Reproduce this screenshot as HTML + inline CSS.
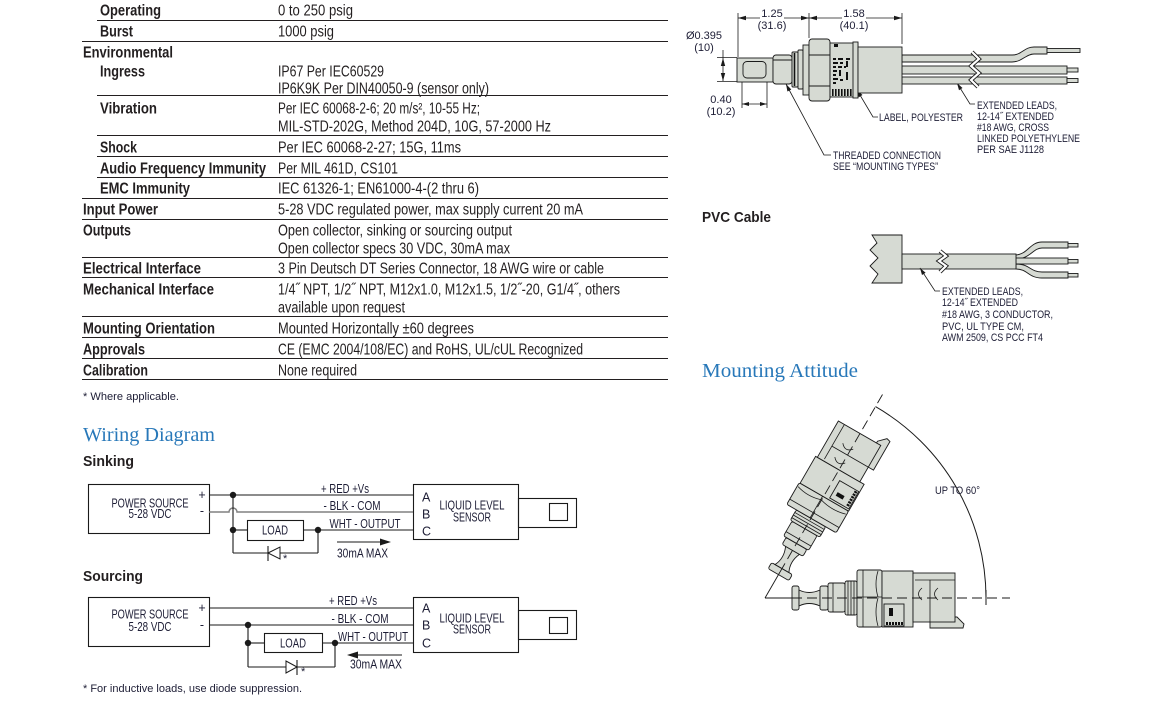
<!DOCTYPE html>
<html><head><meta charset="utf-8">
<style>
html,body{margin:0;padding:0;background:#fff;}
svg{display:block;}
.lb{font-family:"Liberation Sans Narrow","Liberation Sans",sans-serif;font-weight:bold;font-size:15.5px;fill:#231f20;}
.v{font-family:"Liberation Sans Narrow","Liberation Sans",sans-serif;font-size:15.5px;fill:#231f20;}
.h{font-family:"Liberation Sans Narrow","Liberation Sans",sans-serif;font-weight:bold;font-size:15px;fill:#231f20;}
.s{font-family:"Liberation Sans Narrow","Liberation Sans",sans-serif;font-size:12.5px;fill:#1d1d35;}
.d{font-family:"Liberation Sans Narrow","Liberation Sans",sans-serif;font-size:11px;fill:#1d1d35;}
.t{font-family:"Liberation Serif",serif;font-size:20px;fill:#2878b9;}
</style></head><body>
<svg width="1161" height="704" viewBox="0 0 1161 704" xmlns="http://www.w3.org/2000/svg">
<rect width="1161" height="704" fill="#fff"/>

<!-- ================= TABLE ================= -->
<g stroke="#231f20" stroke-width="1">
<line x1="97" y1="20.5" x2="668" y2="20.5"/>
<line x1="82" y1="41.5" x2="668" y2="41.5"/>
<line x1="97" y1="95.5" x2="668" y2="95.5"/>
<line x1="97" y1="135.5" x2="668" y2="135.5"/>
<line x1="97" y1="156.5" x2="668" y2="156.5"/>
<line x1="97" y1="177.5" x2="668" y2="177.5"/>
<line x1="82" y1="198.5" x2="668" y2="198.5"/>
<line x1="82" y1="219.5" x2="668" y2="219.5"/>
<line x1="82" y1="257.5" x2="668" y2="257.5"/>
<line x1="82" y1="277.5" x2="668" y2="277.5"/>
<line x1="82" y1="316.5" x2="668" y2="316.5"/>
<line x1="82" y1="337.5" x2="668" y2="337.5"/>
<line x1="82" y1="358.5" x2="668" y2="358.5"/>
<line x1="82" y1="379.5" x2="668" y2="379.5"/>
</g>

<text class="lb" x="100" y="15.5" textLength="61" lengthAdjust="spacingAndGlyphs">Operating</text>
<text class="lb" x="100" y="36.5" textLength="33" lengthAdjust="spacingAndGlyphs">Burst</text>
<text class="lb" x="83" y="57.5" textLength="90" lengthAdjust="spacingAndGlyphs">Environmental</text>
<text class="lb" x="100" y="76.5" textLength="45" lengthAdjust="spacingAndGlyphs">Ingress</text>
<text class="lb" x="100" y="113.5" textLength="57" lengthAdjust="spacingAndGlyphs">Vibration</text>
<text class="lb" x="100" y="152.5" textLength="37" lengthAdjust="spacingAndGlyphs">Shock</text>
<text class="lb" x="100" y="173.5" textLength="166" lengthAdjust="spacingAndGlyphs">Audio Frequency Immunity</text>
<text class="lb" x="100" y="193.5" textLength="90" lengthAdjust="spacingAndGlyphs">EMC Immunity</text>
<text class="lb" x="83" y="214.5" textLength="75" lengthAdjust="spacingAndGlyphs">Input Power</text>
<text class="lb" x="83" y="235.5" textLength="48" lengthAdjust="spacingAndGlyphs">Outputs</text>
<text class="lb" x="83" y="273.5" textLength="118" lengthAdjust="spacingAndGlyphs">Electrical Interface</text>
<text class="lb" x="83" y="294.5" textLength="131" lengthAdjust="spacingAndGlyphs">Mechanical Interface</text>
<text class="lb" x="83" y="333.5" textLength="132" lengthAdjust="spacingAndGlyphs">Mounting Orientation</text>
<text class="lb" x="83" y="354.5" textLength="62" lengthAdjust="spacingAndGlyphs">Approvals</text>
<text class="lb" x="83" y="375.5" textLength="65" lengthAdjust="spacingAndGlyphs">Calibration</text>

<text class="v" x="278" y="15.5" textLength="75" lengthAdjust="spacingAndGlyphs">0 to 250 psig</text>
<text class="v" x="278" y="36.5" textLength="56" lengthAdjust="spacingAndGlyphs">1000 psig</text>
<text class="v" x="278" y="76.5" textLength="106" lengthAdjust="spacingAndGlyphs">IP67 Per IEC60529</text>
<text class="v" x="278" y="93.5" textLength="211" lengthAdjust="spacingAndGlyphs">IP6K9K Per DIN40050-9 (sensor only)</text>
<text class="v" x="278" y="113.5" textLength="202" lengthAdjust="spacingAndGlyphs">Per IEC 60068-2-6; 20 m/s², 10-55 Hz;</text>
<text class="v" x="278" y="131.5" textLength="273" lengthAdjust="spacingAndGlyphs">MIL-STD-202G, Method 204D, 10G, 57-2000 Hz</text>
<text class="v" x="278" y="152.5" textLength="183" lengthAdjust="spacingAndGlyphs">Per IEC 60068-2-27; 15G, 11ms</text>
<text class="v" x="278" y="173.5" textLength="120" lengthAdjust="spacingAndGlyphs">Per MIL 461D, CS101</text>
<text class="v" x="278" y="193.5" textLength="201" lengthAdjust="spacingAndGlyphs">IEC 61326-1; EN61000-4-(2 thru 6)</text>
<text class="v" x="278" y="214.5" textLength="305" lengthAdjust="spacingAndGlyphs">5-28 VDC regulated power, max supply current 20 mA</text>
<text class="v" x="278" y="235.5" textLength="234" lengthAdjust="spacingAndGlyphs">Open collector, sinking or sourcing output</text>
<text class="v" x="278" y="253.5" textLength="232" lengthAdjust="spacingAndGlyphs">Open collector specs 30 VDC, 30mA max</text>
<text class="v" x="278" y="273.5" textLength="326" lengthAdjust="spacingAndGlyphs">3 Pin Deutsch DT Series Connector, 18 AWG wire or cable</text>
<text class="v" x="278" y="294.5" textLength="342" lengthAdjust="spacingAndGlyphs">1/4˝ NPT, 1/2˝ NPT, M12x1.0, M12x1.5, 1/2˝-20, G1/4˝, others</text>
<text class="v" x="278" y="312.5" textLength="127" lengthAdjust="spacingAndGlyphs">available upon request</text>
<text class="v" x="278" y="333.5" textLength="196" lengthAdjust="spacingAndGlyphs">Mounted Horizontally ±60 degrees</text>
<text class="v" x="278" y="354.5" textLength="305" lengthAdjust="spacingAndGlyphs">CE (EMC 2004/108/EC) and RoHS, UL/cUL Recognized</text>
<text class="v" x="278" y="375.5" textLength="79" lengthAdjust="spacingAndGlyphs">None required</text>
<text class="d" x="83" y="400" textLength="96" lengthAdjust="spacingAndGlyphs" font-size="11.5">* Where applicable.</text>

<!-- ================= WIRING DIAGRAM ================= -->
<text class="t" x="83" y="441" textLength="132" lengthAdjust="spacingAndGlyphs">Wiring Diagram</text>
<text class="h" x="83" y="466" textLength="51" lengthAdjust="spacingAndGlyphs">Sinking</text>

<g fill="none" stroke="#1a1a1a" stroke-width="1.1">
  <rect x="88.5" y="484.5" width="121" height="49"/>
  <rect x="413.5" y="484.5" width="105" height="55"/>
  <rect x="518.5" y="498.5" width="58" height="29"/>
  <rect x="549.5" y="503.5" width="18" height="17"/>
  <line x1="209" y1="495" x2="413" y2="495"/>
  <path d="M209,512 H229 A4,4 0 0 1 237,512 H413" stroke="#808080" stroke-width="1.5"/>
  <line x1="233" y1="495" x2="233" y2="553"/>
  <line x1="233" y1="530" x2="247" y2="530"/>
  <rect x="247.5" y="520.5" width="56" height="20"/>
  <line x1="303" y1="530" x2="413" y2="530"/>
  <line x1="318" y1="530" x2="318" y2="553"/>
  <line x1="233" y1="553" x2="318" y2="553"/>
  <line x1="268" y1="546" x2="268" y2="561"/>
  <line x1="337" y1="542" x2="384" y2="542"/>
</g>
<polygon points="268,553 280,547 280,559" fill="#fff" stroke="#1a1a1a" stroke-width="1"/>
<polygon points="391,542 380,538.5 380,545.5" fill="#1a1a1a"/>
<g fill="#1a1a1a">
  <circle cx="233" cy="495" r="3.2"/>
  <circle cx="233" cy="530" r="3.2"/>
  <circle cx="318" cy="530" r="3.2"/>
</g>
<text class="s" x="150" y="507.5" text-anchor="middle" textLength="77" lengthAdjust="spacingAndGlyphs">POWER SOURCE</text>
<text class="s" x="150" y="518" text-anchor="middle" textLength="43" lengthAdjust="spacingAndGlyphs">5-28 VDC</text>
<text class="s" x="202" y="499" text-anchor="middle">+</text>
<text class="s" x="202" y="515" text-anchor="middle">-</text>
<text class="s" x="345" y="493" text-anchor="middle" textLength="48" lengthAdjust="spacingAndGlyphs">+ RED +Vs</text>
<text class="s" x="352" y="510" text-anchor="middle" textLength="57" lengthAdjust="spacingAndGlyphs">- BLK - COM</text>
<text class="s" x="365" y="528" text-anchor="middle" textLength="71" lengthAdjust="spacingAndGlyphs">WHT - OUTPUT</text>
<text class="s" x="275" y="534.5" text-anchor="middle" textLength="26" lengthAdjust="spacingAndGlyphs">LOAD</text>
<text class="s" x="337" y="557.5" textLength="51" lengthAdjust="spacingAndGlyphs">30mA MAX</text>
<text class="s" x="422" y="501.5">A</text>
<text class="s" x="422" y="518.5">B</text>
<text class="s" x="422" y="535.5">C</text>
<text class="s" x="472" y="509.5" text-anchor="middle" textLength="65" lengthAdjust="spacingAndGlyphs">LIQUID LEVEL</text>
<text class="s" x="472" y="521.5" text-anchor="middle" textLength="38" lengthAdjust="spacingAndGlyphs">SENSOR</text>
<text class="d" x="283" y="562">*</text>

<!-- Sourcing -->
<text class="h" x="83" y="581" textLength="60" lengthAdjust="spacingAndGlyphs">Sourcing</text>
<g fill="none" stroke="#1a1a1a" stroke-width="1.1">
  <rect x="88.5" y="597.5" width="121" height="49"/>
  <rect x="413.5" y="597.5" width="105" height="55"/>
  <rect x="518.5" y="610.5" width="58" height="29"/>
  <rect x="549.5" y="617.5" width="18" height="16"/>
  <line x1="209" y1="608" x2="413" y2="608"/>
  <line x1="209" y1="625" x2="413" y2="625"/>
  <line x1="248" y1="625" x2="248" y2="667"/>
  <line x1="248" y1="643" x2="264" y2="643"/>
  <rect x="264.5" y="633.5" width="58" height="19"/>
  <line x1="322" y1="643" x2="413" y2="643"/>
  <line x1="335" y1="643" x2="335" y2="667"/>
  <line x1="248" y1="667" x2="335" y2="667"/>
  <line x1="297" y1="660" x2="297" y2="675"/>
  <line x1="355" y1="655" x2="402" y2="655"/>
</g>
<polygon points="297,667 286,661 286,673" fill="#fff" stroke="#1a1a1a" stroke-width="1"/>
<polygon points="347,655 358,651.5 358,658.5" fill="#1a1a1a"/>
<g fill="#1a1a1a">
  <circle cx="248" cy="625" r="3.2"/>
  <circle cx="248" cy="643" r="3.2"/>
  <circle cx="335" cy="643" r="3.2"/>
</g>
<text class="s" x="150" y="618.5" text-anchor="middle" textLength="77" lengthAdjust="spacingAndGlyphs">POWER SOURCE</text>
<text class="s" x="150" y="631" text-anchor="middle" textLength="43" lengthAdjust="spacingAndGlyphs">5-28 VDC</text>
<text class="s" x="202" y="612" text-anchor="middle">+</text>
<text class="s" x="202" y="629" text-anchor="middle">-</text>
<text class="s" x="353" y="605" text-anchor="middle" textLength="48" lengthAdjust="spacingAndGlyphs">+ RED +Vs</text>
<text class="s" x="360" y="623" text-anchor="middle" textLength="57" lengthAdjust="spacingAndGlyphs">- BLK - COM</text>
<text class="s" x="373" y="641" text-anchor="middle" textLength="70" lengthAdjust="spacingAndGlyphs">WHT - OUTPUT</text>
<text class="s" x="293" y="647.5" text-anchor="middle" textLength="26" lengthAdjust="spacingAndGlyphs">LOAD</text>
<text class="s" x="350" y="668.5" textLength="52" lengthAdjust="spacingAndGlyphs">30mA MAX</text>
<text class="s" x="422" y="612.5">A</text>
<text class="s" x="422" y="629.5">B</text>
<text class="s" x="422" y="647.5">C</text>
<text class="s" x="472" y="622.5" text-anchor="middle" textLength="65" lengthAdjust="spacingAndGlyphs">LIQUID LEVEL</text>
<text class="s" x="472" y="633.5" text-anchor="middle" textLength="38" lengthAdjust="spacingAndGlyphs">SENSOR</text>
<text class="d" x="301" y="675">*</text>
<text class="d" x="83" y="692" textLength="219" lengthAdjust="spacingAndGlyphs" font-size="11.5">* For inductive loads, use diode suppression.</text>

<!-- ================= TOP RIGHT SENSOR DRAWING ================= -->
<g stroke="#1a1a1a" stroke-width="0.8" fill="none">
  <line x1="738" y1="13" x2="738" y2="57"/>
  <line x1="809" y1="13" x2="809" y2="38"/>
  <line x1="902" y1="13" x2="902" y2="44"/>
  <line x1="738" y1="18" x2="760" y2="18"/>
  <line x1="784" y1="18" x2="809" y2="18"/>
  <line x1="809" y1="18" x2="842" y2="18"/>
  <line x1="866" y1="18" x2="902" y2="18"/>
  <line x1="723" y1="50" x2="723" y2="81"/>
  <line x1="717" y1="57.5" x2="737" y2="57.5"/>
  <line x1="717" y1="81.5" x2="737" y2="81.5"/>
  <line x1="742" y1="82" x2="742" y2="108"/>
  <line x1="767" y1="82" x2="767" y2="108"/>
  <line x1="742" y1="104" x2="767" y2="104"/>
  <polyline points="786,84 824,155 831,155"/>
  <polyline points="857,90 873,117 878,117"/>
  <polyline points="957,83 970,104 975,104"/>
</g>
<g fill="#1a1a1a">
  <polygon points="738,18 746,15.8 746,20.2"/>
  <polygon points="809,18 801,15.8 801,20.2"/>
  <polygon points="809,18 817,15.8 817,20.2"/>
  <polygon points="902,18 894,15.8 894,20.2"/>
  <polygon points="723,58 720.8,66 725.2,66"/>
  <polygon points="723,81 720.8,73 725.2,73"/>
  <polygon points="742,104 749,102 749,106"/>
  <polygon points="767,104 760,102 760,106"/>
  <polygon points="786,84 791.3,89.5 787.4,91.5"/>
  <polygon points="857,90 862.5,95 858.8,97.2"/>
  <polygon points="957,83 962.5,88 959,90.2"/>
</g>
<text class="d" x="772" y="17" text-anchor="middle">1.25</text>
<text class="d" x="772" y="29" text-anchor="middle">(31.6)</text>
<text class="d" x="854" y="17" text-anchor="middle">1.58</text>
<text class="d" x="854" y="29" text-anchor="middle">(40.1)</text>
<text class="d" x="704" y="39" text-anchor="middle">Ø0.395</text>
<text class="d" x="704" y="51" text-anchor="middle">(10)</text>
<text class="d" x="721" y="103" text-anchor="middle">0.40</text>
<text class="d" x="721" y="115" text-anchor="middle">(10.2)</text>

<g fill="#d6dad3" stroke="#1a1a1a" stroke-width="0.9">
  <path d="M902,55 H1012 C1022,55 1024,47 1034,47 H1047 V54 H1034 C1026,54 1022,62 1012,62 H902 Z"/>
  <rect x="1047" y="48.5" width="33" height="4"/>
  <rect x="902" y="66" width="165" height="8"/>
  <rect x="1067" y="68" width="11" height="4"/>
  <rect x="902" y="77" width="165" height="7"/>
  <rect x="1067" y="78.5" width="11" height="4"/>
  <rect x="737" y="58" width="36" height="24"/>
  <rect x="743" y="61.5" width="23" height="16.5" rx="4"/>
  <rect x="773" y="55" width="19" height="29" rx="3"/>
  <rect x="792" y="52" width="6" height="35" rx="1"/>
  <rect x="798" y="50" width="5" height="39" rx="1"/>
  <rect x="803" y="45" width="6" height="50"/>
  <rect x="809" y="39" width="21" height="62" rx="3"/>
  <path d="M809,55 H830 M809,86 H830 M773,60 H792" fill="none"/>
  <rect x="830" y="43" width="28" height="54"/>
  <rect x="853" y="42" width="5" height="56"/>
  <rect x="858" y="47" width="44" height="46"/>
</g>
<line x1="794.5" y1="53" x2="794.5" y2="86" stroke="#111" stroke-width="1.6"/>
<g fill="none">
  <polyline points="972,52 979,59 971,66 979,73 971,80 978,87" stroke="#1a1a1a" stroke-width="4"/>
  <polyline points="972,52 979,59 971,66 979,73 971,80 978,87" stroke="#fff" stroke-width="2.2"/>
</g>
<g fill="#111">
  <rect x="834" y="44" width="4" height="3"/>
  <rect x="833" y="58" width="3" height="2"/><rect x="838" y="58" width="5" height="2"/><rect x="846" y="58" width="4" height="2"/>
  <rect x="833" y="62" width="5" height="2"/><rect x="840" y="62" width="3" height="2"/><rect x="846" y="61" width="2" height="6"/>
  <rect x="833" y="66" width="3" height="2"/><rect x="838" y="66" width="4" height="2"/><rect x="844" y="66" width="2" height="2"/>
  <rect x="833" y="70" width="4" height="2"/><rect x="839" y="70" width="2" height="6"/><rect x="846" y="72" width="2" height="8"/>
  <rect x="833" y="74" width="3" height="2"/><rect x="833" y="78" width="5" height="2"/><rect x="840" y="79" width="3" height="2"/>
  <rect x="833" y="82" width="3" height="2"/>
  <rect x="832" y="89" width="1.6" height="7"/><rect x="835" y="89" width="1.6" height="7"/><rect x="838" y="89" width="1.6" height="7"/>
  <rect x="841" y="89" width="1.6" height="7"/><rect x="844" y="89" width="1.6" height="7"/><rect x="847" y="89" width="1.6" height="7"/>
  <rect x="850" y="89" width="1.6" height="7"/>
</g>
<text class="d" x="879" y="121" textLength="84" lengthAdjust="spacingAndGlyphs">LABEL, POLYESTER</text>
<text class="d" x="833" y="159" textLength="108" lengthAdjust="spacingAndGlyphs">THREADED CONNECTION</text>
<text class="d" x="833" y="170" textLength="105" lengthAdjust="spacingAndGlyphs">SEE “MOUNTING TYPES”</text>
<text class="d" x="977" y="109" textLength="80" lengthAdjust="spacingAndGlyphs">EXTENDED LEADS,</text>
<text class="d" x="977" y="120" textLength="77" lengthAdjust="spacingAndGlyphs">12-14˝ EXTENDED</text>
<text class="d" x="977" y="131" textLength="72" lengthAdjust="spacingAndGlyphs">#18 AWG, CROSS</text>
<text class="d" x="977" y="142" textLength="103" lengthAdjust="spacingAndGlyphs">LINKED POLYETHYLENE</text>
<text class="d" x="977" y="153" textLength="67" lengthAdjust="spacingAndGlyphs">PER SAE J1128</text>

<!-- ================= PVC CABLE ================= -->
<text class="h" x="702" y="222" textLength="69" lengthAdjust="spacingAndGlyphs">PVC Cable</text>
<g fill="#d6dad3" stroke="#1a1a1a" stroke-width="0.9">
  <polygon points="872,235 902,235 902,283 872,283 878,274 870,266 878,258 870,250 877,243"/>
  <path d="M1016,255 C1028,254 1030,242 1042,242 H1068 V248 H1042 C1033,248 1030,259 1016,259 Z"/>
  <rect x="1016" y="258" width="52" height="6"/>
  <path d="M1016,264 C1030,264 1030,272 1042,272 H1068 V278 H1042 C1028,278 1028,269 1016,269 Z"/>
  <rect x="1068" y="243.5" width="10" height="3.5"/>
  <rect x="1068" y="259.5" width="10" height="3.5"/>
  <rect x="1068" y="273.5" width="10" height="3.5"/>
  <rect x="902" y="254" width="114" height="15"/>
</g>
<g fill="none">
  <polyline points="940,251 946,256 939,261 946,266 940,272" stroke="#1a1a1a" stroke-width="4"/>
  <polyline points="940,251 946,256 939,261 946,266 940,272" stroke="#fff" stroke-width="2.2"/>
</g>
<polyline points="920,268 935,291 940,291" fill="none" stroke="#1a1a1a" stroke-width="0.8"/>
<polygon points="920,268 925.6,272.8 922,275" fill="#1a1a1a"/>
<text class="d" x="942" y="295" textLength="81" lengthAdjust="spacingAndGlyphs">EXTENDED LEADS,</text>
<text class="d" x="942" y="306" textLength="76" lengthAdjust="spacingAndGlyphs">12-14˝ EXTENDED</text>
<text class="d" x="942" y="318" textLength="111" lengthAdjust="spacingAndGlyphs">#18 AWG, 3 CONDUCTOR,</text>
<text class="d" x="942" y="330" textLength="82" lengthAdjust="spacingAndGlyphs">PVC, UL TYPE CM,</text>
<text class="d" x="942" y="341" textLength="101" lengthAdjust="spacingAndGlyphs">AWM 2509, CS PCC FT4</text>

<!-- ================= MOUNTING ATTITUDE ================= -->
<text class="t" x="702" y="377" textLength="156" lengthAdjust="spacingAndGlyphs">Mounting Attitude</text>

<defs>
  <g id="ms">
    <g fill="#d6dad3" stroke="#1a1a1a" stroke-width="0.9">
      <rect x="27" y="-12" width="7" height="24" rx="2"/>
      <path d="M34,-8 Q44,-3 55,-8 L55,8 Q44,3 34,8 Z"/>
      <rect x="55" y="-12" width="8" height="24" rx="2"/>
      <rect x="63" y="-15" width="17" height="29" rx="2"/>
      <rect x="80" y="-17" width="12" height="34" rx="2"/>
      <rect x="92" y="-28" width="25" height="57" rx="2"/>
      <rect x="117" y="-27" width="31" height="56"/>
      <rect x="119" y="6" width="20" height="22"/>
      <path d="M165,19 H192 L199,26 L198,30 H165 Z"/>
      <rect x="148" y="-25" width="42" height="49"/>
    </g>
    <g fill="none" stroke="#1a1a1a" stroke-width="0.8">
      <path d="M68,-15 V14 M83,-17 V17 M86,-17 V17 M89,-17 V17"/>
      <path d="M98,-28 V29 M92,-1 H117 M113,-27 Q109,-14 113,-1 M113,0 Q109,14 113,28"/>
      <path d="M150,-18 H190 M165,-18 V24 M157,-10 Q150,-4 157,2 M173,-10 Q166,-4 173,2"/>
    </g>
    <g fill="#111">
      <rect x="124" y="10" width="4" height="8"/>
      <rect x="121" y="24" width="2" height="3"/><rect x="124" y="24" width="2" height="3"/><rect x="127" y="24" width="2" height="3"/>
      <rect x="130" y="24" width="2" height="3"/><rect x="133" y="24" width="2" height="3"/><rect x="136" y="24" width="2" height="3"/>
    </g>
  </g>
</defs>

<g transform="translate(765,598) rotate(-60)">
  <use href="#ms"/>
  <line x1="0" y1="0" x2="30" y2="0" stroke="#1a1a1a" stroke-width="0.9"/>
  <line x1="30" y1="0" x2="240" y2="0" stroke="#1a1a1a" stroke-width="0.9" stroke-dasharray="10 5"/>
</g>
<g transform="translate(765,598)">
  <use href="#ms"/>
  <line x1="0" y1="0" x2="27" y2="0" stroke="#1a1a1a" stroke-width="0.9"/>
  <line x1="27" y1="0" x2="245" y2="0" stroke="#1a1a1a" stroke-width="0.9" stroke-dasharray="10 5"/>
</g>
<path d="M986,598 A221,221 0 0 0 875.5,406.6" fill="none" stroke="#1a1a1a" stroke-width="1"/>
<line x1="986" y1="590" x2="986" y2="605" stroke="#1a1a1a" stroke-width="1"/>
<text class="d" x="935" y="494" textLength="45" lengthAdjust="spacingAndGlyphs">UP TO 60°</text>

</svg>
</body></html>
